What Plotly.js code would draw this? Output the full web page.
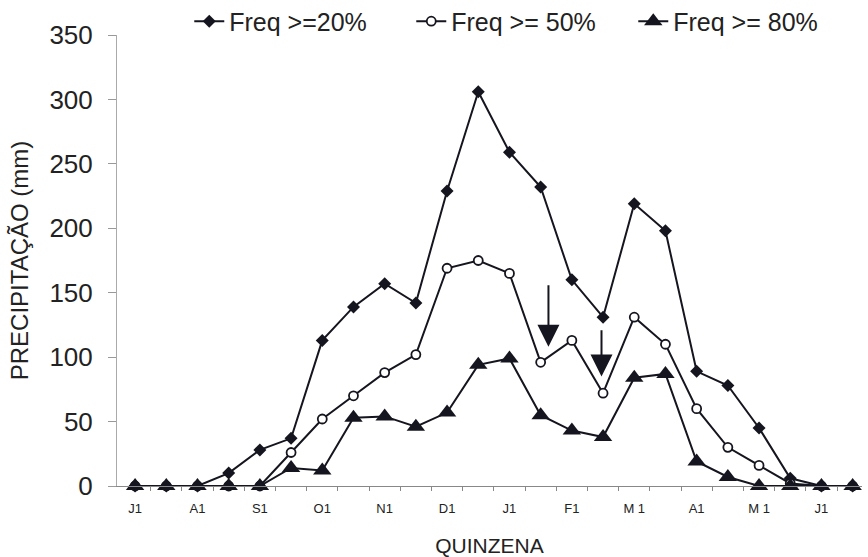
<!DOCTYPE html>
<html>
<head>
<meta charset="utf-8">
<script src="https://cdn.plot.ly/plotly-3.0.1.min.js"></script>
<style>
html,body{margin:0;padding:0;background:#fff;}
#chart{width:868px;height:557px;}
</style>
</head>
<body>
<div id="chart"></div>
<script>
// Quinzenas (fortnights) from July to June
const quinzenas = ["J1","J2","A1","A2","S1","S2","O1","O2","N1","N2","D1","D2","J1","J2","F1","F2","M1","M2","A1","A2","M1","M2","J1","J2"];
const tickLabels = ["J1","A1","S1","O1","N1","D1","J1","F1","M 1","A1","M 1","J1"];
const freq20 = [0,0,0,10,28,37,113,139,157,142,229,306,259,232,160,131,219,198,89,78,45,6,0,0];
const freq50 = [0,0,0,0,0,26,52,70,88,102,169,175,165,96,113,72,131,110,60,30,16,2,0,0];
const freq80 = [0,0,0,0,0,14,12,53,54,46,57,94,99,55,43,38,84,87,19,7,0,0,0,0];
const seriesNames = ["Freq >=20%","Freq >= 50%","Freq >= 80%"];
// Arrows marking points of interest (x position as fortnight index, tail and tip values in mm)
const arrowX = [13.25, 14.95];
const arrowTail = [157, 122];
const arrowTip = [108, 85];

const idx = quinzenas.map((_, i) => i);
const tickIdx = tickLabels.map((_, i) => i * 2);
const ink = "#15151f";
const font = "Liberation Sans, Arial, sans-serif";

const traces = [
  {x: idx, y: freq20, name: seriesNames[0], mode: "lines+markers", cliponaxis: false,
   line: {color: ink, width: 2}, marker: {symbol: "diamond", size: 10, color: ink}},
  {x: idx, y: freq50, name: seriesNames[1], mode: "lines+markers", cliponaxis: false,
   line: {color: ink, width: 2}, marker: {symbol: "circle", size: 9, color: "#fff", line: {color: ink, width: 1.8}}},
  {x: idx, y: freq80, name: seriesNames[2], mode: "lines+markers", cliponaxis: false,
   line: {color: ink, width: 2}, marker: {symbol: "triangle-up", size: 16, color: ink}}
];

const minorTicks = [];
for (let i = 0; i < quinzenas.length; i++) minorTicks.push(i + 0.5);

const annotations = arrowX.map((xv, i) => ({
  x: xv, y: arrowTip[i], ax: xv, ay: arrowTail[i], axref: "x", ayref: "y",
  xref: "x", yref: "y", text: "", showarrow: true,
  arrowhead: 2, arrowsize: 2.2, arrowwidth: 2, arrowcolor: ink
}));

const layout = {
  width: 868, height: 557,
  margin: {l: 117, r: 6, t: 35, b: 71, autoexpand: false},
  paper_bgcolor: "#fff", plot_bgcolor: "#fff",
  font: {family: font, color: "#222"},
  showlegend: true,
  legend: {orientation: "h",
           x: 0.097, xanchor: "left", y: 1.03, yanchor: "middle",
           entrywidth: 177, entrywidthmode: "pixels",
           font: {size: 25, family: font, color: "#222"}, bgcolor: "rgba(0,0,0,0)"},
  xaxis: {
    range: [-0.58, 23.3], showgrid: false, zeroline: false,
    tickmode: "array", tickvals: tickIdx, ticktext: tickLabels,
    ticks: "", tickfont: {size: 13, family: font, color: "#222"},
    ticklabelstandoff: 10,
    showline: true, linecolor: "#888", linewidth: 1,
    minor: {tickmode: "array", tickvals: minorTicks, ticks: "outside", ticklen: 4, tickcolor: "#888", showgrid: false},
    title: {text: "QUINZENA", font: {size: 21, family: font, color: "#222"}, standoff: 25}
  },
  yaxis: {
    range: [0, 350], showgrid: false, zeroline: false,
    tickvals: [0,50,100,150,200,250,300,350],
    ticks: "outside", ticklen: 8, tickcolor: "#999",
    ticklabelstandoff: 10,
    tickfont: {size: 26, family: font, color: "#222"},
    showline: true, linecolor: "#aaa", linewidth: 1,
    title: {text: "PRECIPITAÇÃO (mm)", font: {size: 24, family: font, color: "#222"}, standoff: 14}
  },
  annotations: annotations
};

Plotly.newPlot("chart", traces, layout, {displayModeBar: false, staticPlot: true});
</script>
</body>
</html>
